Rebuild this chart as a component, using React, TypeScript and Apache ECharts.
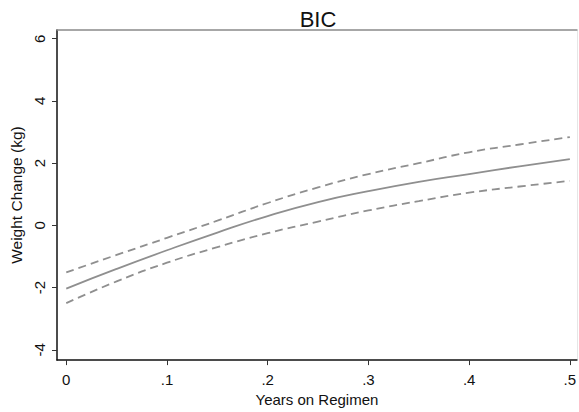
import React, { useEffect, useRef } from "react";
import * as echarts from "echarts";

const years = [0, 0.05, 0.1, 0.15, 0.2, 0.25, 0.3, 0.35, 0.4, 0.45, 0.5];
const fitValues = [-2.03, -1.4, -0.8, -0.23, 0.3, 0.75, 1.1, 1.4, 1.65, 1.9, 2.13];
const upperValues = [-1.51, -0.95, -0.4, 0.15, 0.72, 1.22, 1.65, 2.0, 2.35, 2.6, 2.84];
const lowerValues = [-2.5, -1.8, -1.2, -0.7, -0.25, 0.12, 0.48, 0.78, 1.05, 1.25, 1.43];
const xTicks = [0, 0.1, 0.2, 0.3, 0.4, 0.5];
const yTicks = [-4, -2, 0, 2, 4, 6];

const FONT = "Liberation Sans, Arial, sans-serif";

function fmtX(v: number) {
  if (Math.abs(v) < 1e-9) return "0";
  return "." + Math.round(v * 10);
}

export default function App() {
  const ref = useRef<HTMLDivElement>(null);
  useEffect(() => {
    document.body.style.margin = "0";
    const chart = echarts.init(ref.current!, null, { renderer: "svg" });
    const pairs = (vals: number[]) => years.map((x, i) => [x, vals[i]]);
    const lineColor = "#8f8f8f";
    chart.setOption({
      animation: false,
      backgroundColor: "#ffffff",
      title: {
        text: "BIC",
        left: 313,
        textAlign: "center",
        top: 3,
        textStyle: { fontFamily: FONT, fontSize: 22, fontWeight: "normal", color: "#111" },
      },
      grid: { left: 49, top: 30, right: 2, bottom: 43, containLabel: false },
      xAxis: [
        {
          type: "value",
          min: -0.0092,
          max: 0.507,
          name: "Years on Regimen",
          nameLocation: "middle",
          nameGap: 24,
          nameTextStyle: { fontFamily: FONT, fontSize: 15, color: "#111" },
          axisLine: { show: true, onZero: false, lineStyle: { color: "#111", width: 1.5 } },
          axisTick: { show: true, length: 5, customValues: xTicks, lineStyle: { color: "#333", width: 1 } },
          axisLabel: {
            customValues: xTicks,
            formatter: (v: number) => fmtX(v),
            margin: 12,
            fontFamily: FONT,
            fontSize: 15,
            color: "#111",
          },
          splitLine: { show: false },
        },
        {
          type: "value",
          position: "top",
          min: -0.0092,
          max: 0.507,
          axisLine: { show: true, onZero: false, lineStyle: { color: "#8a8a8a", width: 1.5 } },
          axisTick: { show: false },
          axisLabel: { show: false },
          splitLine: { show: false },
        },
      ],
      yAxis: [
        {
          type: "value",
          min: -4.33,
          max: 6.28,
          name: "Weight Change (kg)",
          nameLocation: "middle",
          nameGap: 33,
          nameTextStyle: { fontFamily: FONT, fontSize: 15.5, color: "#111" },
          axisLine: { show: true, onZero: false, lineStyle: { color: "#111", width: 1.5 } },
          axisTick: { show: true, length: 5, customValues: yTicks, lineStyle: { color: "#333", width: 1 } },
          axisLabel: {
            customValues: yTicks,
            rotate: 90,
            margin: 10,
            fontFamily: FONT,
            fontSize: 15,
            color: "#111",
          },
          splitLine: { show: false },
        },
        {
          type: "value",
          position: "right",
          min: -4.33,
          max: 6.28,
          axisLine: { show: true, onZero: false, lineStyle: { color: "#e6e6e6", width: 1 } },
          axisTick: { show: false },
          axisLabel: { show: false },
          splitLine: { show: false },
        },
      ],
      series: [
        {
          type: "line",
          data: pairs(upperValues),
          smooth: true,
          symbol: "none",
          lineStyle: { color: lineColor, width: 1.8, type: [8, 5] },
        },
        {
          type: "line",
          data: pairs(fitValues),
          smooth: true,
          symbol: "none",
          lineStyle: { color: lineColor, width: 1.8, type: "solid" },
        },
        {
          type: "line",
          data: pairs(lowerValues),
          smooth: true,
          symbol: "none",
          lineStyle: { color: lineColor, width: 1.8, type: [8, 5] },
        },
      ],
    });
    return () => chart.dispose();
  }, []);
  return <div ref={ref} style={{ width: 579, height: 412 }} />;
}
